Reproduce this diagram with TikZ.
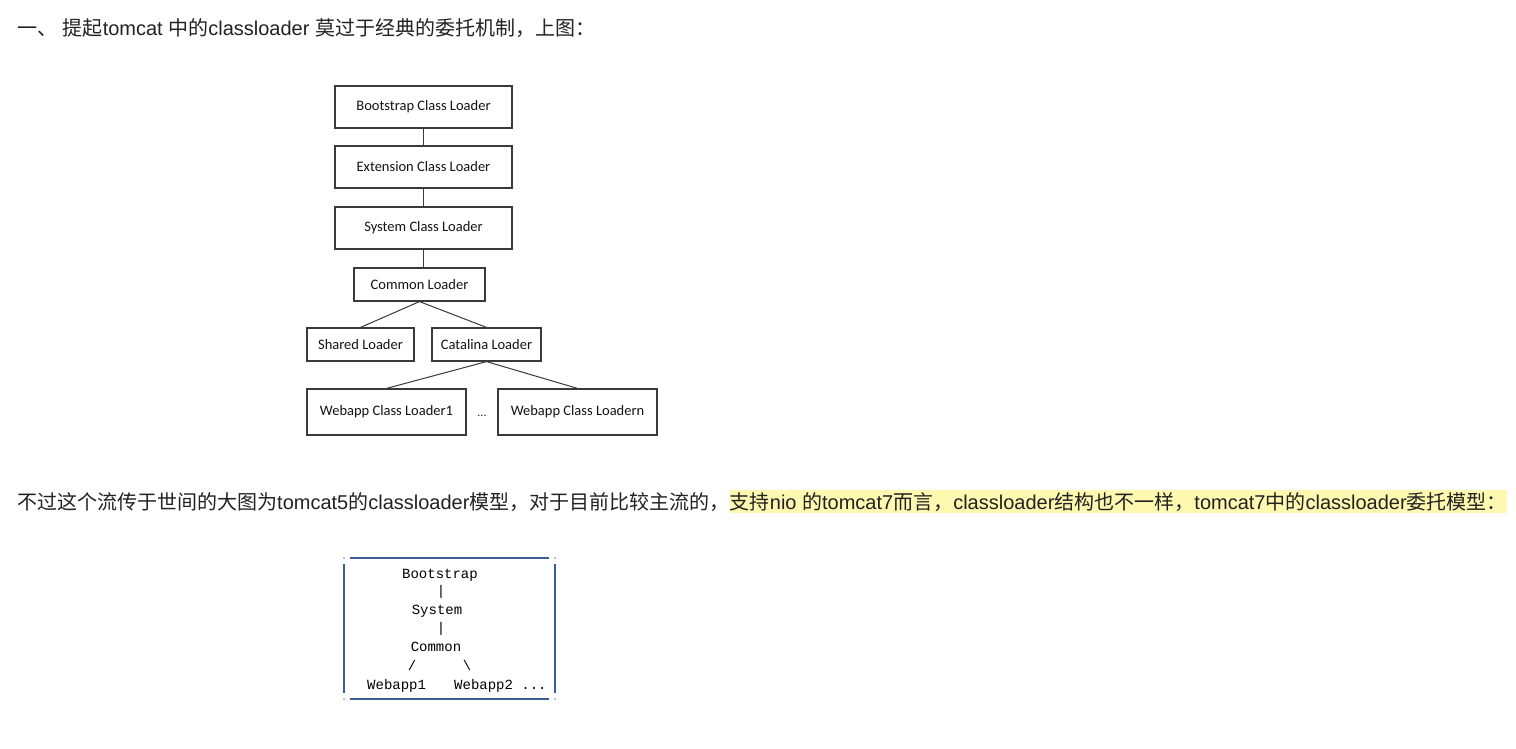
\documentclass[tikz,border=0pt]{standalone}
\usepackage{fontspec}
\setmainfont{Liberation Sans}
\newfontfamily\cjk{Noto Sans CJK SC}
\newfontfamily\calib{Carlito}
\newfontfamily\monof{Liberation Mono}
\newcommand\zh[1]{{\cjk #1}}
\definecolor{txt}{HTML}{222222}
\definecolor{hl}{RGB}{255,248,176}
\definecolor{boxc}{HTML}{3A3A3A}
\definecolor{frame}{RGB}{58,94,150}
\tikzset{
  para/.style={anchor=base west, inner sep=0pt, text=txt, font=\fontsize{20}{22}\selectfont},
  ldbox/.style={draw=boxc, line width=1.2pt, inner sep=0pt, text=black!92, font=\calib\fontsize{14.5}{16}\selectfont},
  conn/.style={draw=boxc, line width=1pt},
  mono/.style={inner sep=0pt, text=black, font=\monof\fontsize{14}{16}\selectfont},
  framel/.style={draw=frame, line width=1.6pt}
}
\begin{document}
\begin{tikzpicture}[x=1pt,y=-1pt]
\useasboundingbox (0,0) rectangle (1516,749);
\fill[white] (0,0) rectangle (1516,749);

% heading
\node[para] (h1) at (17,36) {\zh{一、} \zh{提起}tomcat \zh{中的}classloader \zh{莫过于经典的委托机制，上图：}};

% upper diagram
\node[ldbox, minimum width=177pt, minimum height=42pt] (boot) at (423.5,107) {Bootstrap Class Loader};
\node[ldbox, minimum width=177pt, minimum height=42pt] (ext) at (423.5,167) {Extension Class Loader};
\node[ldbox, minimum width=177pt, minimum height=42pt] (sys) at (423.5,228) {System Class Loader};
\node[ldbox, minimum width=131pt, minimum height=33pt] (com) at (419.5,284.5) {Common Loader};
\node[ldbox, minimum width=107pt, minimum height=33pt] (shared) at (360.5,344.5) {Shared Loader};
\node[ldbox, minimum width=109pt, minimum height=33pt] (cat) at (486.5,344.5) {Catalina Loader};
\node[ldbox, minimum width=159pt, minimum height=46pt] (web1) at (386.5,412) {Webapp Class Loader1};
\node[ldbox, minimum width=159pt, minimum height=46pt] (webn) at (577.5,412) {Webapp Class Loadern};
\node[inner sep=0pt, text=black!85, font=\calib\fontsize{12}{13}\selectfont] (dots) at (482,416) {...};

\draw[conn] (boot.south) -- (ext.north);
\draw[conn] (ext.south) -- (sys.north);
\draw[conn] (sys.south) -- (sys.south |- com.north);
\draw[conn] (com.south) -- (shared.north);
\draw[conn] (com.south) -- (cat.north);
\draw[conn] (cat.south) -- (web1.north);
\draw[conn] (cat.south) -- (webn.north);

% second paragraph
\node[para] (p2a) at (17,509) {\zh{不过这个流传于世间的大图为}tomcat5\zh{的}classloader\zh{模型，对于目前比较主流的，}};
\node[para, fill=hl, text height=19pt, text depth=4pt] (p2b) at (p2a.base east) {\zh{支持}nio \zh{的}tomcat7\zh{而言，}classloader\zh{结构也不一样，}tomcat7\zh{中的}classloader\zh{委托模型：}};

% lower diagram frame
\coordinate (tl) at (344,558);
\coordinate (tr) at (555,558);
\coordinate (bl) at (344,699);
\coordinate (br) at (555,699);
\draw[framel] ([xshift=6pt]tl) -- ([xshift=-6pt]tr);
\draw[framel] ([xshift=6pt]bl) -- ([xshift=-6pt]br);
\draw[framel] ([yshift=-6pt]tl) -- ([yshift=6pt]bl);
\draw[framel] ([yshift=-6pt]tr) -- ([yshift=6pt]br);
\foreach \c in {tl,tr,bl,br} \fill[frame!60] (\c) circle (1pt);

% lower diagram text
\node[mono, anchor=base] (bs) at (440,578) {Bootstrap};
\node[mono] (bar1) at (441,592) {|};
\node[mono, anchor=base] (sy) at (437,614) {System};
\node[mono] (bar2) at (441,629) {|};
\node[mono, anchor=base] (cm) at (436,651.5) {Common};
\node[mono] (sl) at (412,665) {/};
\node[mono] (bsl) at (467,665) {\textbackslash};
\node[mono, anchor=base west] (w1) at (367,689) {Webapp1};
\node[mono, anchor=base west] (w2) at (454,689) {Webapp2 ...};
\end{tikzpicture}
\end{document}
